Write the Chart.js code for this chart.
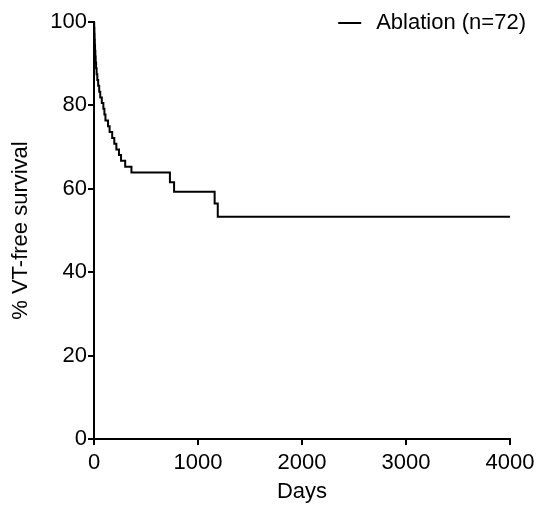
<!DOCTYPE html>
<html>
<head>
<meta charset="utf-8">
<script src="https://cdn.jsdelivr.net/npm/chart.js@4/dist/chart.umd.min.js"></script>
<style>
  html, body { margin: 0; padding: 0; background: #fff; }
  #wrap { width: 537px; height: 505px; }
</style>
</head>
<body>
<div id="wrap"><canvas id="c" width="537" height="505"></canvas></div>
<script>
// Kaplan-Meier curve
const days = [0, 2, 4, 6, 8, 10, 13, 16, 20, 25, 32, 40, 50, 60, 75, 90, 100, 110, 135, 150,
  175, 195, 215, 240, 260, 300, 360, 730, 770, 1160, 1190, 4000];
const survival = [100, 98.6, 97.2, 95.8, 94.4, 93.1, 91.7, 90.3, 88.9, 87.5, 86.1, 84.7, 83.3,
  81.9, 80.6, 79.2, 77.8, 76.4, 75.0, 73.6, 72.2, 70.8, 69.4, 68.1, 66.7, 65.3, 63.9,
  61.6, 59.3, 56.5, 53.3, 53.3];
const seriesLabel = 'Ablation (n=72)';
const xTitle = 'Days';
const yTitle = '% VT-free survival';

const FONT = "'Liberation Sans', Arial, sans-serif";

// legend drawn inside the plot, top right
const legendPlugin = {
  id: 'insideLegend',
  afterDraw(chart) {
    const ctx = chart.ctx;
    const area = chart.chartArea;
    ctx.save();
    ctx.font = '22px ' + FONT;
    ctx.fillStyle = '#000';
    ctx.textBaseline = 'middle';
    ctx.textAlign = 'right';
    const xr = area.right + 16;
    const y = area.top + 1;
    ctx.fillText(seriesLabel, xr, y);
    const w = ctx.measureText(seriesLabel).width;
    ctx.beginPath();
    ctx.strokeStyle = '#000';
    ctx.lineWidth = 2;
    ctx.moveTo(xr - w - 38, y);
    ctx.lineTo(xr - w - 15, y);
    ctx.stroke();
    ctx.restore();
  }
};

new Chart(document.getElementById('c'), {
  type: 'line',
  data: {
    datasets: [{
      label: seriesLabel,
      data: days.map((d, i) => ({ x: d, y: survival[i] })),
      borderColor: '#000',
      borderWidth: 2,
      stepped: true,
      pointRadius: 0,
      fill: false
    }]
  },
  options: {
    responsive: false,
    animation: false,
    layout: { padding: { top: 22, right: 27, left: 0, bottom: 0 } },
    plugins: { legend: { display: false }, tooltip: { enabled: false } },
    scales: {
      x: {
        type: 'linear',
        min: 0, max: 4000,
        ticks: { stepSize: 1000, color: '#000', font: { family: FONT, size: 22 }, padding: 5, maxRotation: 0,
          callback: v => String(v) },
        grid: { drawOnChartArea: false, drawTicks: true, tickLength: 6, color: '#000', lineWidth: 2 },
        border: { display: true, color: '#000', width: 2 },
        title: { display: true, text: xTitle, color: '#000', font: { family: FONT, size: 22 }, padding: 0 },
        afterFit(s) { s.height = 66; s.paddingLeft = 0; s.paddingRight = 0; }
      },
      y: {
        min: 0, max: 100,
        ticks: { stepSize: 20, color: '#000', font: { family: FONT, size: 22 }, padding: 1,
          callback: v => String(v) },
        grid: { drawOnChartArea: false, drawTicks: true, tickLength: 6, color: '#000', lineWidth: 2 },
        border: { display: true, color: '#000', width: 2 },
        title: { display: true, text: yTitle, color: '#000', font: { family: FONT, size: 22 }, padding: 8 },
        afterFit(s) { s.width = 94; s.paddingTop = 0; s.paddingBottom = 0; }
      }
    }
  },
  plugins: [legendPlugin]
});
</script>
</body>
</html>
